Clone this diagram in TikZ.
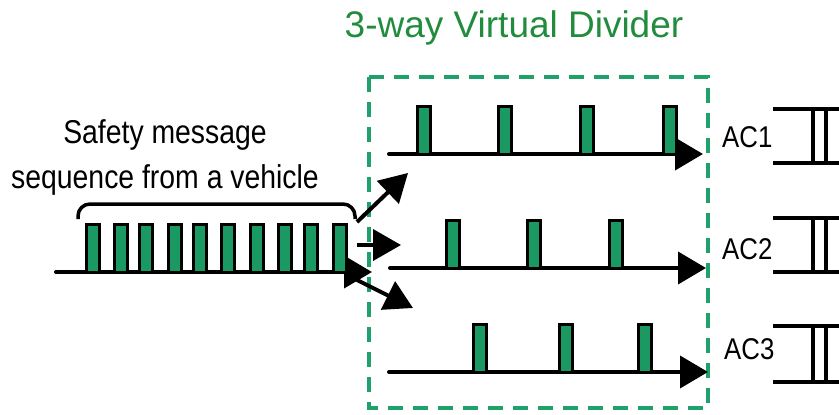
\documentclass[tikz,border=0pt]{standalone}
\usepackage{fontspec}
\setmainfont{Liberation Sans}
\newfontfamily\labelfont[FakeStretch=0.86]{Liberation Sans}
\usetikzlibrary{arrows.meta}
\definecolor{msggreen}{RGB}{26,154,98}
\definecolor{boxgreen}{RGB}{32,160,106}
\definecolor{titlegreen}{RGB}{34,140,62}

\begin{document}
\begin{tikzpicture}[x=1pt,y=1pt,
  pulse/.style={draw=black, line width=3pt, fill=msggreen, minimum width=13pt,
    minimum height=48pt, inner sep=0pt, outer sep=0pt, anchor=south},
  timeline/.style={line width=4pt, line cap=round, -{Triangle[length=28pt,width=32pt]}},
  splitarrow/.style={line width=4pt, -{Triangle[length=28pt,width=31pt]}},
  queueline/.style={line width=4pt},
  divbox/.style={draw=boxgreen, line width=4pt, dash pattern=on 15pt off 10pt},
  msgtext/.style={font=\labelfont\fontsize{33}{40}\selectfont, anchor=base, inner sep=0pt},
  aclabel/.style={font=\labelfont\fontsize{30}{36}\selectfont, anchor=base west, inner sep=0pt},
  titletext/.style={font=\fontsize{37}{44}\selectfont, text=titlegreen, anchor=base, inner sep=0pt}
]
\useasboundingbox (0,0) rectangle (839,-415);

% title and the dashed divider frame
\node[titletext] (title) at (514,-37) {3-way Virtual Divider};
\draw[divbox] (369,-77) rectangle (708,-408);

% incoming message sequence
\node[msgtext] (msg1) at (165,-143) {Safety message};
\node[msgtext] (msg2) at (165,-188) {sequence from a vehicle};
\draw[line width=3.5pt, rounded corners=12pt] (78,-219) -- (78,-204) -- (355,-204) -- (355,-219);

\coordinate (seqstart) at (56,-272);
\coordinate (seqend) at (372,-272);
\draw[timeline] (seqstart) -- (seqend);
\foreach \x [count=\i] in {93,121,146,175,199.5,228,257,284.5,311,340}
  \node[pulse] (s\i) at (\x,-272) {};

% split arrows into the three channels
\coordinate (upA) at (357,-222);   \coordinate (upB) at (408,-173);
\coordinate (midA) at (357,-245);  \coordinate (midB) at (401,-245);
\coordinate (dnA) at (353,-278);   \coordinate (dnB) at (413,-308);
\draw[splitarrow] (upA) -- (upB);
\draw[splitarrow] (midA) -- (midB);
\draw[splitarrow] (dnA) -- (dnB);

% channel timelines
\coordinate (r1a) at (389,-154); \coordinate (r1b) at (703,-154);
\coordinate (r2a) at (390,-268); \coordinate (r2b) at (706,-268);
\coordinate (r3a) at (389,-372); \coordinate (r3b) at (708,-372);
\draw[timeline] (r1a) -- (r1b);
\draw[timeline] (r2a) -- (r2b);
\draw[timeline] (r3a) -- (r3b);
\foreach \x [count=\i] in {424,505,586.5,669.5}
  \node[pulse] (a\i) at (\x,-154) {};
\foreach \x [count=\i] in {452.5,533.5,616}
  \node[pulse] (b\i) at (\x,-268) {};
\foreach \x [count=\i] in {479.5,565.5,645}
  \node[pulse] (c\i) at (\x,-372) {};

% access category labels
\node[aclabel] (ac1) at (722,-147) {AC1};
\node[aclabel] (ac2) at (722,-259) {AC2};
\node[aclabel] (ac3) at (724,-359) {AC3};

% queue symbols
\foreach \t/\b in {109/163, 218/272, 326/382} {
  \draw[queueline] (773,-\t) -- (845,-\t);
  \draw[queueline] (773,-\b) -- (845,-\b);
  \draw[queueline] (813,-\t) -- (813,-\b);
  \draw[queueline] (826,-\t) -- (826,-\b);
}
\end{tikzpicture}
\end{document}
